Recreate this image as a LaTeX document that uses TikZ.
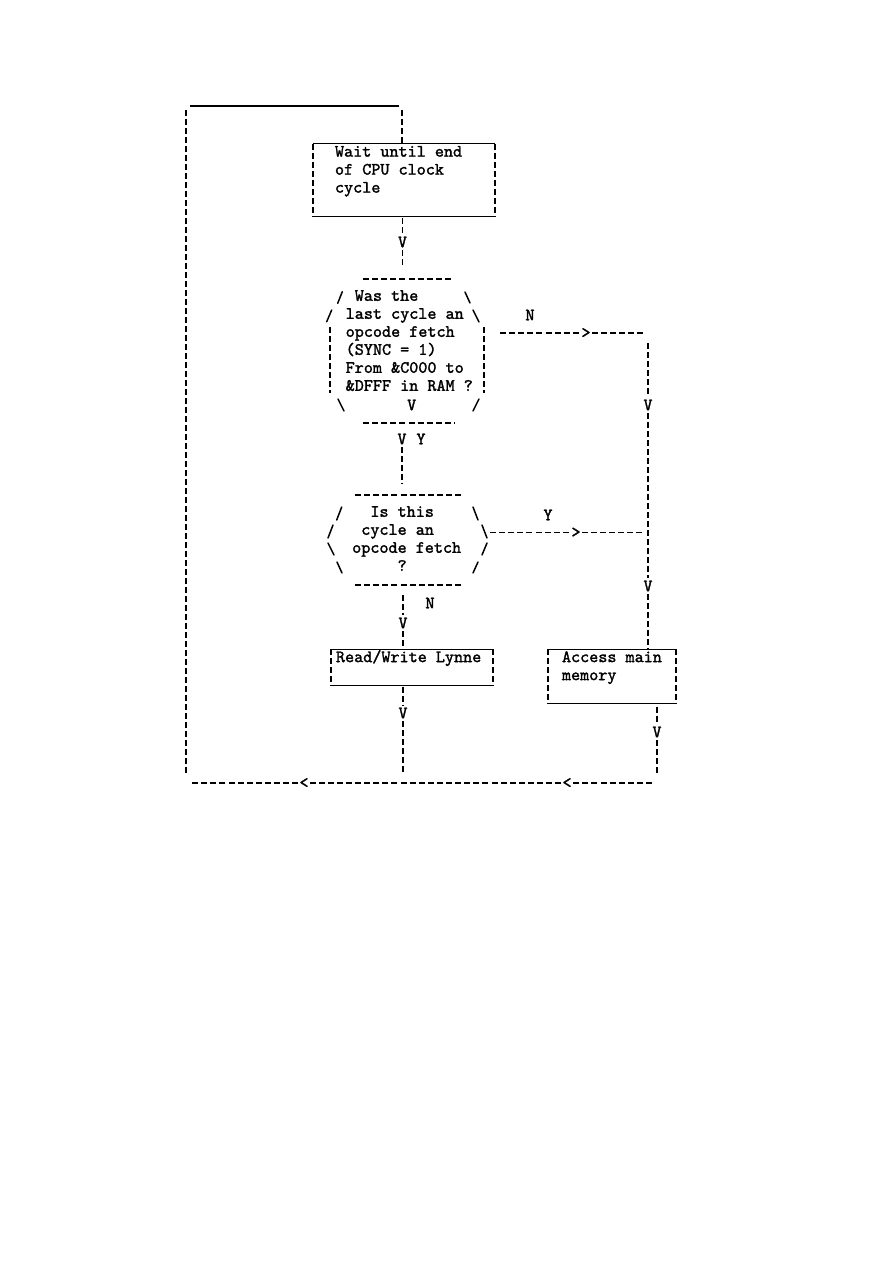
\documentclass[tikz,border=0pt]{standalone}
\usepackage{fontspec}
\newfontfamily\typew{lmmono10-regular.otf}[FakeBold=1.6]
\usetikzlibrary{calc}
\newcommand{\rowtxt}[1]{\mbox{\spaceskip=9.08pt\xspaceskip=9.08pt\relax\strut #1}}
\newcommand{\asciibox}[1]{%
  \draw[uline] (#1.north west) -- (#1.north east);
  \draw[uline] (#1.south west) -- (#1.south east);
  \draw[vline] (#1.north west) -- (#1.south west);
  \draw[vline] (#1.north east) -- (#1.south east);}
\begin{document}
\begin{tikzpicture}[x=1pt,y=-1pt,
  txt/.style={font=\typew\fontsize{17.3}{18}\selectfont, inner sep=0pt, align=left},
  ch/.style={font=\typew\fontsize{17.3}{18}\selectfont, inner sep=2.5pt},
  vline/.style={line width=1.7pt, dash pattern=on 6pt off 3pt},
  hline/.style={line width=1.7pt, dash pattern=on 6pt off 3.1pt},
  uline/.style={line width=1.3pt},
  slash/.style={line width=1.5pt, line cap=round}]
\fill[white] (0,0) rectangle (893,1262);
\useasboundingbox (0,0) rectangle (893,1262);

% ---- boxes
\node[txt, text width=138, inner xsep=22] (b1) at (404,180)
  {\rowtxt{Wait until end}\\\rowtxt{of CPU clock}\\\rowtxt{cycle}\\\rowtxt{}};
\node[txt, text width=152, inner xsep=5] (rw) at (412,667.5)
  {\rowtxt{Read/Write Lynne}\\\rowtxt{}};
\node[txt, text width=100, inner xsep=14] (am) at (612,676.5)
  {\rowtxt{Access main}\\\rowtxt{memory}\\\rowtxt{}};
\asciibox{b1}
\asciibox{rw}
\asciibox{am}

% ---- decision 1
\node[txt, text width=128, anchor=north west] (d1) at (345.5,288)
  {\rowtxt{\hphantom{x}Was the}\\\rowtxt{last cycle an}\\\rowtxt{opcode fetch}\\
   \rowtxt{(SYNC = 1)}\\\rowtxt{From \&C000 to}\\\rowtxt{\&DFFF in RAM ?}};
\draw[hline] (363,279) -- (454,279);
\draw[hline] (363,422.7) -- (455,422.7);
\draw[slash] (342.3,291.7) -- (337.7,303.3);
\draw[slash] (331.7,310) -- (326.7,321.7);
\draw[vline] (330,327) -- (330,393);
\draw[slash] (338,399) -- (344,411);
\draw[slash] (465,292) -- (470,303);
\draw[slash] (473,310) -- (479,322);
\draw[vline] (484.3,327) -- (484.3,393);
\draw[slash] (479,399) -- (473,411);
\node[ch] (vin) at (411.7,405) {V};

% ---- decision 2
\node[txt, text width=110, anchor=north west] (d2) at (352,504)
  {\rowtxt{\hphantom{xx}Is this}\\\rowtxt{\hphantom{x}cycle an}\\\rowtxt{opcode fetch}\\
   \rowtxt{\hphantom{xxxxx}?}};
\draw[hline] (355,495) -- (462,495);
\draw[hline] (355,585) -- (462,585);
\draw[slash] (341.7,507) -- (336.7,520);
\draw[slash] (333,525) -- (328,538);
\draw[slash] (328,543) -- (334,555);
\draw[slash] (337,562) -- (342,573);
\draw[slash] (473,507) -- (478,520);
\draw[slash] (482,525) -- (487,538);
\draw[slash] (487,543) -- (482,555);
\draw[slash] (478,562) -- (473,573);

% ---- arrow characters and labels
\node[ch] (v1) at (402.5,242) {V};
\node[ch] (v3) at (402,439) {V};
\node[ch] (ly1) at (421,439) {Y};
\node[ch] (ln1) at (530,315) {N};
\node[ch, inner xsep=1pt] (g1) at (586,333) {>};
\node[ch] (v4) at (648,405) {V};
\node[ch] (ly2) at (548,515) {Y};
\node[ch, inner xsep=1pt] (g2) at (576,532.5) {>};
\node[ch] (v5) at (648,586) {V};
\node[ch] (ln2) at (430,603) {N};
\node[ch] (v6) at (403,623) {V};
\node[ch] (v7) at (403,713) {V};
\node[ch] (v8) at (657,732) {V};
\node[ch, inner xsep=1pt] (l1) at (567,783) {<};
\node[ch, inner xsep=1pt] (l2) at (304,783) {<};

% ---- named connector ends
\coordinate (lpbot) at (186,773);
\coordinate (lptop) at (186,108);
\coordinate (tl) at (190,106);
\coordinate (trc) at (399,106);
\coordinate (trd) at (401.7,110);
\coordinate (d1top) at (402.5,268);
\coordinate (d1out) at (500,333);
\coordinate (nend) at (643,333);
\coordinate (rtop) at (648,343);
\coordinate (d2top) at (402,484);
\coordinate (d2out) at (490,532.5);
\coordinate (yend) at (645,532.5);
\coordinate (d2bot) at (403,595);
\coordinate (rwend) at (403,773);
\coordinate (amend) at (657,773);
\coordinate (bend) at (652,783);
\coordinate (bstart) at (192,783);

% ---- connectors
\draw[vline] (lpbot) -- (lptop);
\draw[uline] (tl) -- (trc);
\draw[vline] (trd) -- (trd |- b1.north);
\draw[vline] (v1 |- b1.south) ++(0,2) -- (v1);
\draw[vline] (v1) -- (d1top);
\draw[hline] (d1out) -- (g1);
\draw[hline] (g1) -- (nend);
\draw[vline] (rtop) -- (v4);
\draw[vline] (v4) -- (v5);
\draw[vline] (v5) -- (v5 |- am.north);
\draw[vline] (v3) -- (d2top);
\draw[hline] (d2out) -- (g2);
\draw[hline] (g2) -- (yend);
\draw[vline] (d2bot) -- (v6);
\draw[vline] (v6) -- (v6 |- rw.north);
\draw[vline] (v7 |- rw.south) ++(0,1) -- (v7);
\draw[vline] (v7) -- (rwend);
\draw[vline] (v8 |- am.south) ++(0,3) -- (v8);
\draw[vline] (v8) -- (amend);
\draw[hline] (bend) -- (l1);
\draw[hline] (l1) -- (l2);
\draw[hline] (l2) -- (bstart);
\end{tikzpicture}
\end{document}
